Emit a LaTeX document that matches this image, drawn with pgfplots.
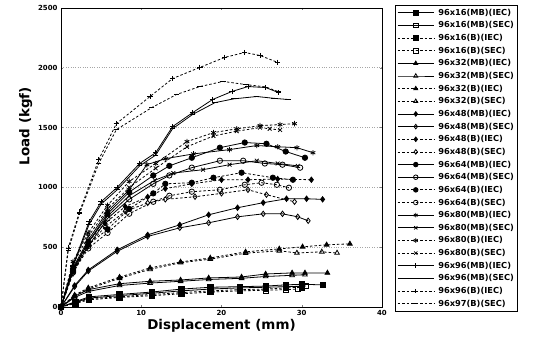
\documentclass[border=0pt]{standalone}
\usepackage{pgfplots}
\pgfplotsset{compat=1.18}
\usepackage{fontspec}
\setmainfont{DejaVu Sans}
\begin{document}
\begin{tikzpicture}
\path[use as bounding box] (-61bp,-36bp) rectangle (472bp,307bp);
\pgfplotsset{
  mb/.style={black, solid, line width=0.8pt, mark size=2.7pt},
  bb/.style={black, dash pattern=on 2.5pt off 2pt, line width=0.8pt, mark size=2.7pt},
  fm/.style={mark options={solid, fill=black}},
  om/.style={mark options={solid, fill=white}},
}
\begin{axis}[
  at={(0,0)}, anchor=south west,
  scale only axis, width=321bp, height=299bp,
  xmin=0, xmax=40, ymin=0, ymax=2500,
  xtick={0,10,20,30,40}, ytick={0,500,1000,1500,2000,2500},
  ymajorgrids, grid style={gray!70, dotted, line width=0.7pt},
  /pgf/number format/assume math mode=true,
  /pgf/number format/set thousands separator={},
  tick label style={font=\bfseries\scriptsize},
  xlabel={\bfseries Displacement (mm)}, ylabel={\bfseries Load (kgf)},
  label style={font=\bfseries\fontsize{13.5}{15}\selectfont},
  xlabel style={yshift=3pt}, ylabel style={at={(ticklabel cs:0.605)}, yshift=-1pt},
  tick align=inside, major tick length=2pt,
  axis line style={line width=0.9pt},
  legend style={at={(1.0405,1.010)}, anchor=north west, font=\bfseries\fontsize{8.3}{9}\selectfont,
    draw=black, line width=0.5pt, row sep=1.7pt, inner sep=2pt,
    nodes={inner sep=1pt, text height=7pt, text depth=2pt},
    /tikz/every odd column/.append style={column sep=3pt}},
  legend cell align=left,
  legend image code/.code={\draw[mark repeat=2,mark phase=2,mark size=2.3pt] plot coordinates {(0cm,0cm) (0.64cm,0cm) (1.28cm,0cm)};},
]
% 96x16
\addplot[mb,fm,mark=square*] coordinates {(0,0)(1.8,45)(3.5,85)(7.3,105)(11.3,125)(15,150)(18.6,165)(22.3,170)(25.5,175)(28,185)(30,190)(32.6,185)};
\addlegendentry{96x16(MB)(IEC)}
\addplot[mb,om,mark=square] coordinates {(0,0)(1.8,40)(3.5,75)(7.3,95)(11.3,115)(15,135)(18.6,150)(22.3,160)(25.5,165)(28,170)(30.5,175)};
\addlegendentry{96x16(MB)(SEC)}
\addplot[bb,fm,mark=square*] coordinates {(0,0)(1.8,35)(3.5,70)(7.3,85)(11.3,105)(15,120)(18.6,135)(22.3,145)(25.5,150)(28,160)(30,165)};
\addlegendentry{96x16(B)(IEC)}
\addplot[bb,om,mark=square] coordinates {(0,0)(1.8,30)(3.5,60)(7.3,80)(11.3,95)(15,110)(18.6,125)(22.3,135)(25.5,140)(28,145)(29.5,150)};
\addlegendentry{96x16(B)(SEC)}
% 96x32
\addplot[mb,fm,mark=triangle*] coordinates {(0,0)(1.7,90)(3.4,145)(7.3,195)(11.1,215)(14.9,226)(18.4,243)(22.5,251)(25.5,276)(28.8,285)(30.4,285)(33.2,285)};
\addlegendentry{96x32(MB)(IEC)}
\addplot[mb,om,mark=triangle] coordinates {(0,0)(1.7,80)(3.4,130)(7.3,180)(11.1,200)(14.9,215)(18.4,230)(22.5,240)(25.5,255)(28.8,265)(30.4,270)};
\addlegendentry{96x32(MB)(SEC)}
\addplot[bb,fm,mark=triangle*] coordinates {(0,0)(1.7,100)(3.4,160)(7.3,250)(11.1,327)(14.9,377)(18.6,410)(23,461)(27.2,486)(30.1,503)(33.1,520)(36,528)};
\addlegendentry{96x32(B)(IEC)}
\addplot[bb,om,mark=triangle] coordinates {(0,0)(1.7,95)(3.4,150)(7.3,240)(11.1,315)(14.9,370)(18.6,400)(23,450)(27.2,470)(29.4,452)(32.5,461)(34.4,452)};
\addlegendentry{96x32(B)(SEC)}
% 96x48
\addplot[mb,fm,mark=diamond*] coordinates {(0,0)(1.7,180)(3.4,310)(7,478)(10.8,603)(14.8,687)(18.4,771)(22,830)(25.2,872)(28.1,905)(30.6,905)(32.6,900)};
\addlegendentry{96x48(MB)(IEC)}
\addplot[mb,om,mark=diamond] coordinates {(0,0)(1.7,170)(3.4,300)(7,465)(10.8,590)(14.8,662)(18.4,704)(22,754)(25.2,779)(27.6,779)(29.5,754)(30.8,721)};
\addlegendentry{96x48(MB)(SEC)}
\addplot[bb,fm,mark=diamond*] coordinates {(0,0)(1.5,300)(3.3,540)(5.5,700)(8,840)(10.8,920)(13,990)(16.3,1030)(20,1064)(23.3,1064)(27,1070)(31.2,1064)};
\addlegendentry{96x48(B)(IEC)}
\addplot[bb,om,mark=diamond] coordinates {(0,0)(1.5,280)(3.3,510)(5.5,670)(8,800)(10.8,870)(13,900)(16.7,922)(20,950)(23.3,980)(25.6,939)(29.1,880)};
\addlegendentry{96x48(B)(SEC)}
% 96x64
\addplot[mb,fm,mark=*] coordinates {(0,0)(1.5,320)(3.4,540)(5.8,780)(8.5,960)(11.5,1100)(13.5,1180)(16.3,1248)(19.8,1332)(22.9,1375)(25.6,1365)(28,1300)(30.4,1248)};
\addlegendentry{96x64(MB)(IEC)}
\addplot[mb,om,mark=o] coordinates {(0,0)(1.5,300)(3.4,510)(5.8,740)(8.5,900)(11.5,1030)(13.5,1100)(16.3,1165)(19.8,1223)(22.7,1223)(25.4,1200)(27.6,1190)(29.8,1165)};
\addlegendentry{96x64(MB)(SEC)}
\addplot[bb,fm,mark=*] coordinates {(0,0)(1.5,310)(3.4,520)(5.8,650)(8.5,820)(11.5,950)(13,1030)(16.3,1039)(19,1081)(22.5,1123)(26.4,1081)(28.9,1064)};
\addlegendentry{96x64(B)(IEC)}
\addplot[bb,om,mark=o] coordinates {(0,0)(1.5,290)(3.4,490)(5.8,620)(8.5,780)(11.5,880)(13.5,930)(16.3,964)(19.8,980)(22.9,1022)(25,1039)(26.9,1022)(28.4,997)};
\addlegendentry{96x64(B)(SEC)}
% 96x80
\addplot[mb,fm,mark=asterisk] coordinates {(0,0)(1.5,330)(3.4,560)(5.8,800)(8.5,980)(10.7,1190)(13,1240)(16.5,1280)(21,1316)(24.4,1350)(27,1340)(29.4,1332)(31.4,1290)};
\addlegendentry{96x80(MB)(IEC)}
\addplot[mb,om,mark=x] coordinates {(0,0)(1.5,310)(3.4,540)(5.8,760)(8.5,930)(11.7,1060)(14,1120)(17.7,1148)(21,1190)(24.4,1223)(27,1200)(29.5,1180)};
\addlegendentry{96x80(MB)(SEC)}
\addplot[bb,fm,mark=asterisk] coordinates {(0,0)(1.5,380)(3.4,620)(5.8,850)(8.5,1050)(11.8,1200)(15.7,1383)(19,1458)(21.9,1490)(24.8,1516)(27.3,1525)(29.1,1533)};
\addlegendentry{96x80(B)(IEC)}
\addplot[bb,om,mark=x] coordinates {(0,0)(1.5,360)(3.4,590)(5.8,820)(8.5,1000)(11.8,1160)(15.7,1340)(19,1430)(21.9,1470)(24.8,1500)(26,1490)(27.3,1480)};
\addlegendentry{96x80(B)(SEC)}
% 96x96
\addplot[mb,fm,mark=+] coordinates {(0,0)(1.5,350)(3.5,712)(5,880)(7,1000)(9.8,1200)(11.8,1290)(13.9,1508)(16.4,1625)(18.9,1735)(21.3,1802)(23.3,1843)(25.5,1835)(27.1,1793)};
\addlegendentry{96x96(MB)(IEC)}
\addplot[mb,om,mark=-] coordinates {(0,0)(1.5,340)(3.5,690)(5,860)(7,980)(9.8,1180)(11.8,1270)(13.9,1490)(16.4,1610)(19.2,1709)(21.5,1740)(24.4,1760)(26.5,1745)(28.3,1735)};
\addlegendentry{96x96(MB)(SEC)}
\addplot[bb,fm,mark=+] coordinates {(0,0)(0.9,494)(2.3,795)(4.7,1232)(6.9,1533)(11.1,1760)(13.9,1910)(17.3,2003)(20.4,2087)(22.9,2128)(24.8,2103)(27,2045)};
\addlegendentry{96x96(B)(IEC)}
\addplot[bb,om,mark=-] coordinates {(0,0)(0.9,470)(2.3,780)(4.7,1200)(6.9,1483)(11.3,1667)(14.4,1777)(17.3,1843)(20.2,1886)(23,1860)(25.5,1840)(27.1,1800)};
\addlegendentry{96x97(B)(SEC)}
\end{axis}
\end{tikzpicture}
\end{document}
